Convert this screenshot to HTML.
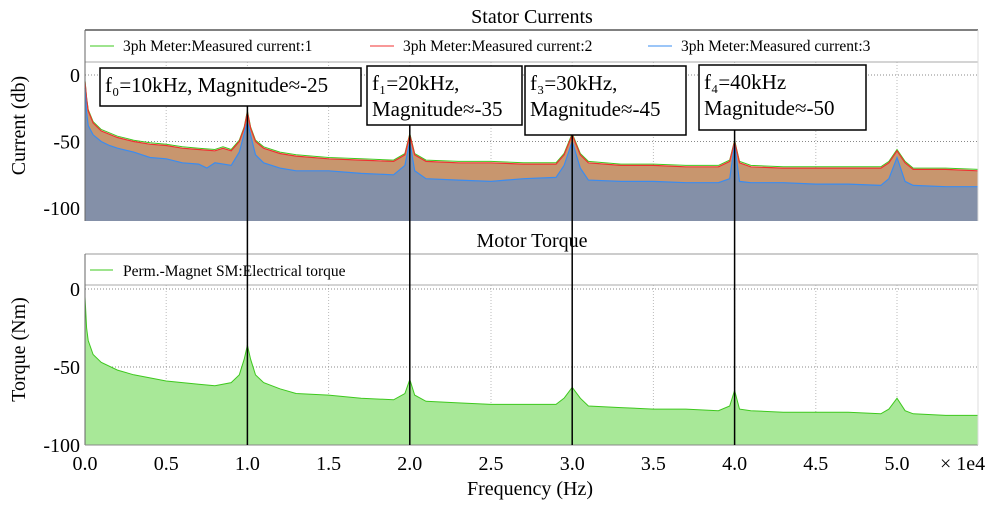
<!DOCTYPE html>
<html><head><meta charset="utf-8"><style>
html,body{margin:0;padding:0;background:#fff;width:1003px;height:511px;overflow:hidden}
svg{display:block}
svg text{font-family:"Liberation Serif","Times New Roman","Nimbus Roman","DejaVu Serif","Noto Serif CJK SC",serif !important}
</style></head><body>
<svg id="chart" width="1003" height="511" viewBox="0 0 1003 511">
<g id="top"></g>
<g id="bot"></g>
<g id="ann"></g>
</svg>
<script>
// ---- data (frequency in 1e4 Hz, magnitude in dB) ----
const freqUpper = [0,0.01,0.02,0.05,0.1,0.2,0.3,0.4,0.5,0.6,0.7,0.8,0.85,0.9,0.95,0.98,1.0,1.02,1.05,1.1,1.2,1.3,1.5,1.7,1.9,1.97,2.0,2.03,2.1,2.3,2.5,2.7,2.9,2.95,3.0,3.05,3.1,3.3,3.5,3.7,3.9,3.97,4.0,4.03,4.1,4.3,4.5,4.7,4.9,4.95,5.0,5.05,5.1,5.3,5.5];
const currUpper = [-5,-18,-27,-36,-42,-47,-50,-52,-53,-55,-56,-57,-55,-57,-50,-40,-28,-40,-50,-55,-59,-61,-63,-64,-65,-60,-45,-60,-65,-66,-66,-67,-67,-60,-45,-60,-66,-68,-68,-69,-69,-65,-50,-66,-69,-70,-70,-70,-70,-66,-57,-66,-71,-71,-72];
const freqBlue = [0,0.01,0.02,0.05,0.1,0.15,0.2,0.3,0.4,0.5,0.6,0.7,0.75,0.8,0.9,0.95,1.0,1.05,1.1,1.2,1.3,1.5,1.7,1.9,1.97,2.0,2.03,2.1,2.3,2.5,2.7,2.9,2.95,3.0,3.05,3.1,3.3,3.5,3.7,3.9,3.97,4.0,4.03,4.1,4.3,4.5,4.7,4.9,4.95,5.0,5.05,5.1,5.3,5.5];
const currBlue = [-10,-28,-38,-45,-50,-53,-55,-58,-62,-63,-66,-67,-70,-66,-68,-58,-35,-60,-66,-70,-72,-72,-74,-75,-68,-50,-72,-78,-79,-80,-78,-77,-68,-50,-70,-79,-80,-80,-81,-81,-78,-52,-80,-81,-81,-82,-82,-83,-78,-62,-80,-83,-84,-84,-85];
const freqTorque = [0,0.01,0.02,0.05,0.1,0.2,0.3,0.4,0.5,0.6,0.7,0.8,0.9,0.95,0.98,1.0,1.02,1.05,1.1,1.2,1.3,1.5,1.7,1.9,1.97,2.0,2.03,2.1,2.3,2.5,2.7,2.9,2.95,3.0,3.05,3.1,3.3,3.5,3.7,3.9,3.97,4.0,4.03,4.1,4.3,4.5,4.7,4.9,4.95,5.0,5.05,5.1,5.3,5.5];
const torqueVals = [-5,-25,-33,-42,-47,-52,-55,-57,-59,-60,-61,-62,-60,-55,-45,-36,-45,-55,-60,-64,-67,-68,-70,-71,-67,-58,-68,-72,-73,-74,-74,-74,-70,-63,-70,-75,-76,-77,-77,-78,-75,-65,-77,-78,-79,-79,-79,-80,-77,-70,-78,-80,-81,-81,-82];
const xTicks = [0,0.5,1,1.5,2,2.5,3,3.5,4,4.5,5];
const xTickLabels = ["0.0","0.5","1.0","1.5","2.0","2.5","3.0","3.5","4.0","4.5","5.0"];
const yTicks = [0,-50,-100];
const yTickLabels = ["0","-50","-100"];
const annFreq = [1,2,3,4];

const NS="http://www.w3.org/2000/svg";
function mk(parent,tag,attrs,name,inter){const e=document.createElementNS(NS,tag);for(const k in attrs)e.setAttribute(k,attrs[k]);


parent.appendChild(e);return e;}
const X0=85,X1=978;
const xs=f=>X0+f*162.4;
const topY=v=>75-v*1.33, topBottom=221;
const botY=v=>289-v*1.56, botBottom=445;

function areaPath(fr,vals,ys,bottom){let d=`M${xs(fr[0])},${bottom}`;fr.forEach((f,i)=>d+=` L${xs(f).toFixed(1)},${ys(vals[i]).toFixed(1)}`);return d+` L${xs(fr[fr.length-1])},${bottom} Z`;}
function linePath(fr,vals,ys){return fr.map((f,i)=>(i?'L':'M')+xs(f).toFixed(1)+','+ys(vals[i]).toFixed(1)).join(' ');}

function panel(g,ys,bottom,frameTop,legendY,title,titleY,ylabel){
  mk(g,'text',{x:532,y:titleY,'text-anchor':'middle','font-size':20},'panel-title').textContent=title;
  xTicks.forEach(t=>mk(g,'line',{x1:xs(t),x2:xs(t),y1:legendY,y2:bottom,stroke:'#bbb','stroke-dasharray':'1,2'},'x-grid-line'));
  yTicks.forEach(t=>mk(g,'line',{x1:X0,x2:X1,y1:ys(t),y2:ys(t),stroke:'#888','stroke-dasharray':'1,2'},'y-grid-line'));
  yTicks.forEach((t,i)=>mk(g,'text',{x:X0-5,y:ys(t)+7,'text-anchor':'end','font-size':20},'y-tick-label').textContent=yTickLabels[i]);
  const yl=(frameTop+bottom)/2;
  mk(g,'text',{x:25,y:yl,'text-anchor':'middle','font-size':20,transform:`rotate(-90 25 ${yl})`},'y-axis-title').textContent=ylabel;
}
const T=document.getElementById('top'),B=document.getElementById('bot'),A=document.getElementById('ann');
panel(T,topY,topBottom,30,62,'Stator Currents',23,'Current (db)');
mk(T,'path',{d:areaPath(freqUpper,currUpper,topY,topBottom),fill:'#c8966e'},'area-current-1-2');
mk(T,'path',{d:areaPath(freqBlue,currBlue,topY,topBottom),fill:'#8490a8'},'area-current-3');
mk(T,'path',{d:linePath(freqUpper,currUpper.map(v=>v+1),topY),fill:'none',stroke:'#3ec81e','stroke-width':1},'line-current-1');
mk(T,'path',{d:linePath(freqUpper,currUpper,topY),fill:'none',stroke:'#f03030','stroke-width':1.2},'line-current-2');
mk(T,'path',{d:linePath(freqBlue,currBlue,topY),fill:'none',stroke:'#3a8cf0','stroke-width':1.2},'line-current-3');
mk(T,'rect',{x:X0,y:30,width:X1-X0,height:32,fill:'#fff'},'legend-box');
mk(T,'line',{x1:X0,x2:X1,y1:30,y2:30,stroke:'#000','stroke-width':1},'frame-top');
mk(T,'line',{x1:X0,x2:X1,y1:62,y2:62,stroke:'#aaa'},'legend-divider');
mk(T,'line',{x1:X0,x2:X0,y1:30,y2:topBottom,stroke:'#666'},'frame-left');
mk(T,'line',{x1:X1,x2:X1,y1:30,y2:topBottom,stroke:'#ddd'},'frame-right');
[[90,'#3ec81e','3ph Meter:Measured current:1'],[370,'#f03030','3ph Meter:Measured current:2'],[648,'#3a8cf0','3ph Meter:Measured current:3']].forEach(([x,c,t])=>{
 mk(T,'line',{x1:x,x2:x+24,y1:46,y2:46,stroke:c},'legend-swatch');
 mk(T,'text',{x:x+33,y:51,'font-size':15.5},'legend-entry').textContent=t;});

panel(B,botY,botBottom,254,285,'Motor Torque',247,'Torque (Nm)');
mk(B,'path',{d:areaPath(freqTorque,torqueVals,botY,botBottom),fill:'#a8e898'},'area-torque');
mk(B,'path',{d:linePath(freqTorque,torqueVals,botY),fill:'none',stroke:'#3ec81e','stroke-width':1},'line-torque');
mk(B,'line',{x1:X0,x2:X1,y1:254,y2:254,stroke:'#999'},'frame-top');
mk(B,'line',{x1:X0,x2:X1,y1:285,y2:285,stroke:'#aaa'},'legend-divider');
mk(B,'line',{x1:X0,x2:X0,y1:254,y2:botBottom,stroke:'#666'},'frame-left');
mk(B,'line',{x1:X0,x2:X1,y1:botBottom,y2:botBottom,stroke:'#888'},'frame-bottom');
mk(B,'line',{x1:X1,x2:X1,y1:254,y2:botBottom,stroke:'#ddd'},'frame-right');
mk(B,'line',{x1:90,x2:113,y1:270,y2:270,stroke:'#3ec81e'},'legend-swatch');
mk(B,'text',{x:123,y:276,'font-size':15.5},'legend-entry').textContent='Perm.-Magnet SM:Electrical torque';
xTicks.forEach((t,i)=>mk(B,'text',{x:xs(t),y:470,'text-anchor':'middle','font-size':20},'x-tick-label').textContent=xTickLabels[i]);
mk(B,'text',{x:940,y:470,'font-size':20},'x-scale-label').textContent='× 1e4';
mk(B,'text',{x:530,y:495,'text-anchor':'middle','font-size':20},'x-axis-title').textContent='Frequency (Hz)';

const boxes=[[100,68,261,38,['f\u2080=10kHz, Magnitude\u2248-25']],[367,66,155,59,['f\u2081=20kHz,','Magnitude\u2248-35']],[525,66,161,69,['f\u2083=30kHz,','Magnitude\u2248-45']],[699,65,167,65,['f\u2084=40kHz','Magnitude\u2248-50']]];
annFreq.forEach((f,i)=>{const [x,y,w,h,lines]=boxes[i];
 mk(A,'line',{x1:xs(f),x2:xs(f),y1:y+h,y2:botBottom,stroke:'#000','stroke-width':1.5},'annotation-line');
 mk(A,'rect',{x:x,y:y,width:w,height:h,fill:'#fff',stroke:'#000','stroke-width':1.5},'annotation-box');
 lines.forEach((l,j)=>mk(A,'text',{x:x+5,y:y+24+j*26,'font-size':21},'annotation-text').textContent=l);
});
</script>
</body></html>
